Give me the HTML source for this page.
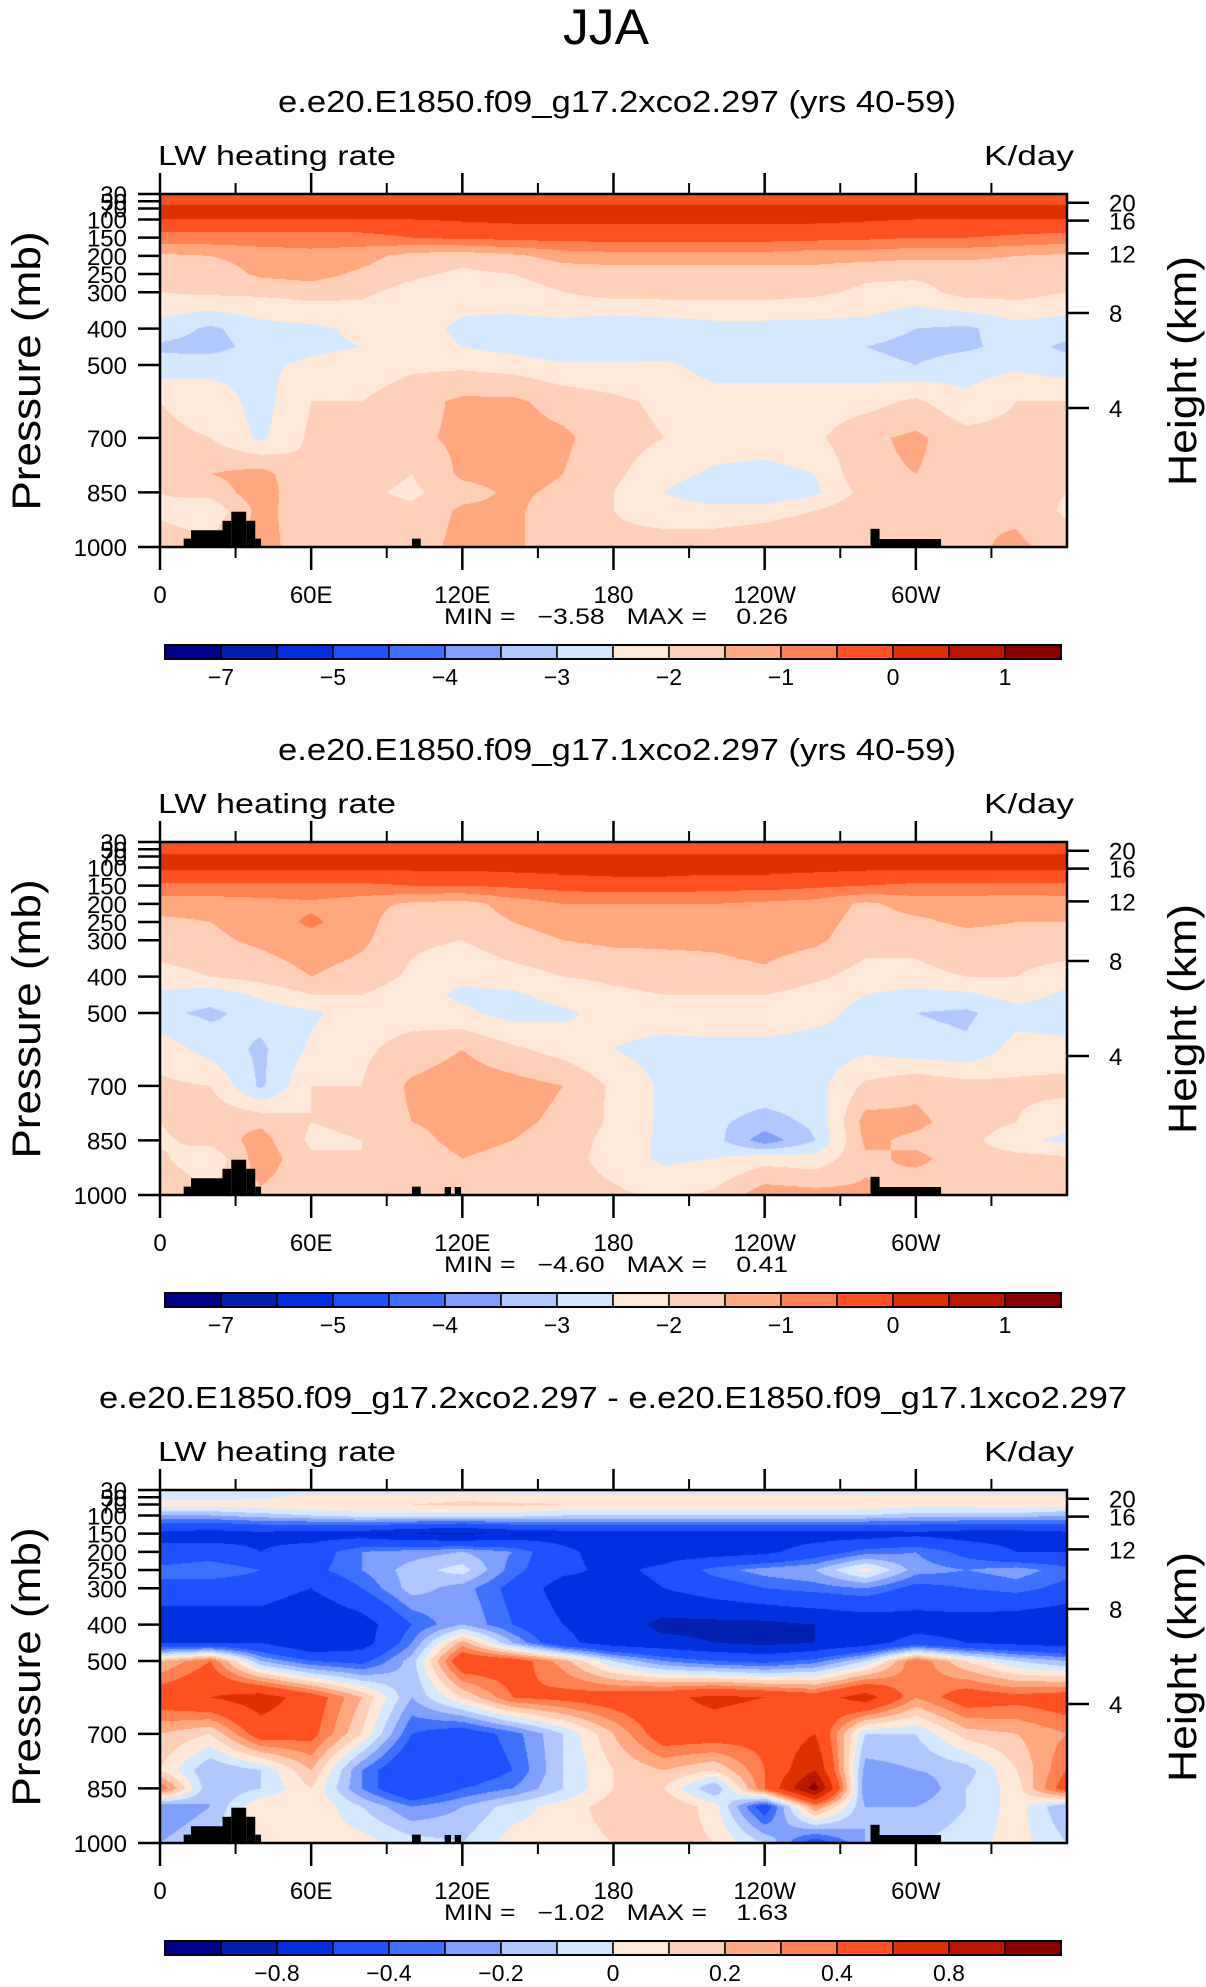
<!DOCTYPE html>
<html><head><meta charset="utf-8"><title>JJA LW heating rate</title>
<style>
html,body{margin:0;padding:0;background:#fff;}
#wrap{position:relative;width:1206px;height:1987px;overflow:hidden;background:#fff;}
canvas{position:absolute;}
svg{position:absolute;left:0;top:0;}
text{font-family:"Liberation Sans",sans-serif;fill:#000;}
.pre{white-space:pre;}
</style></head>
<body>
<div id="wrap">
<canvas id="c0"></canvas>
<canvas id="c1"></canvas>
<canvas id="c2"></canvas>
<svg id="ov" width="1206" height="1987">
<text x="606" y="44" font-size="50" text-anchor="middle" textLength="86" lengthAdjust="spacingAndGlyphs">JJA</text>
</svg>
</div>
<script>
const LONS = [0,20,40,60,80,100,120,140,160,180,200,220,240,260,280,300,320,340,360];
const PLEV = [30,50,70,100,150,200,250,300,400,450,500,600,700,800,850,900,1000];
const LEV12 = [-7,-6,-5,-4.5,-4,-3.5,-3,-2.5,-2,-1.5,-1,-0.5,0,0.5,1];
const LEV3 = [-1,-0.8,-0.6,-0.4,-0.3,-0.2,-0.1,0,0.1,0.2,0.3,0.4,0.6,0.8,1];
const COLORS = ['#00008a','#0020b0','#0030e0','#1e50ff','#4070ff','#80a0ff','#b0c8ff','#d4e8ff','#ffe8d8','#ffd0b8','#ffa880','#ff8050','#ff5020','#e03000','#b81800','#8a0000'];
const XTICK_LONS = [0,60,120,180,240,300];
const XTICK_LABELS = ['0','60E','120E','180','120W','60W'];
const XMINOR_LONS = [30,90,150,210,270,330];
const PTICKS = [30,50,70,100,150,200,250,300,400,500,700,850,1000];
const HT_LABELS = ['20','16','12','8','4'];
const HT_PRESS = [54,103,193,357,618];
const TITLES = ['e.e20.E1850.f09_g17.2xco2.297 (yrs 40-59)','e.e20.E1850.f09_g17.1xco2.297 (yrs 40-59)','e.e20.E1850.f09_g17.2xco2.297 - e.e20.E1850.f09_g17.1xco2.297'];
const MINS = ['\u22123.58','\u22124.60','\u22121.02'];
const MAXS = ['0.26','0.41','1.63'];
const TOPO1 = [[9.4,12.3,977],[12.3,24.8,954],[24.8,28.3,928],[28.3,34.2,903],[34.2,37.8,928],[37.8,40.1,977],[100,103.5,977],[282,285.6,950],[285.6,310,978]];
const TOPO2 = [[9.4,12.3,977],[12.3,24.8,954],[24.8,28.3,928],[28.3,34.2,903],[34.2,37.8,928],[37.8,40.1,977],[100,103.5,977],[113,115.5,978],[117,119.5,978],[282,285.6,950],[285.6,310,978]];

const P1 = [
[-0.4,-0.4,-0.4,-0.4,-0.4,-0.4,-0.4,-0.4,-0.4,-0.4,-0.4,-0.4,-0.4,-0.4,-0.4,-0.4,-0.4,-0.4,-0.4],
[-0.2,-0.2,-0.2,-0.2,-0.2,-0.2,-0.2,-0.2,-0.2,-0.2,-0.2,-0.2,-0.2,-0.2,-0.2,-0.2,-0.2,-0.2,-0.2],
[0.15,0.15,0.15,0.15,0.15,0.15,0.15,0.15,0.15,0.15,0.15,0.15,0.15,0.15,0.15,0.15,0.15,0.15,0.15],
[0.0,0.0,0.0,0.0,0.0,0.0,0.05,0.1,0.1,0.1,0.1,0.1,0.1,0.1,0.05,0.0,0.0,0.0,0.0],
[-0.7,-0.7,-0.7,-0.7,-0.7,-0.5,-0.4,-0.35,-0.3,-0.3,-0.3,-0.3,-0.3,-0.35,-0.4,-0.5,-0.5,-0.6,-0.7],
[-1.6,-1.5,-1.3,-1.2,-1.3,-1.7,-1.8,-1.6,-1.3,-1.2,-1.2,-1.2,-1.2,-1.3,-1.3,-1.4,-1.4,-1.5,-1.6],
[-1.8,-1.8,-1.4,-1.3,-1.6,-1.9,-2.1,-2.0,-1.8,-1.8,-1.8,-1.8,-1.8,-1.7,-1.9,-1.9,-1.8,-1.8,-1.8],
[-2.0,-1.9,-1.9,-1.8,-1.9,-2.2,-2.3,-2.2,-2.0,-1.8,-1.8,-1.8,-1.8,-1.9,-2.1,-2.2,-1.8,-1.8,-2.0],
[-2.7,-3.1,-2.7,-2.6,-2.4,-2.3,-2.6,-2.7,-2.7,-2.9,-2.8,-2.7,-2.7,-2.7,-2.7,-3.0,-3.1,-2.7,-2.8],
[-3.1,-3.2,-2.8,-2.6,-2.5,-2.3,-2.5,-2.7,-3.0,-3.0,-2.8,-2.8,-2.8,-2.8,-3.0,-3.2,-3.1,-2.8,-3.1],
[-2.8,-2.7,-2.6,-2.4,-2.3,-2.1,-2.1,-2.2,-2.4,-2.4,-2.4,-2.7,-2.7,-2.7,-2.8,-3.0,-2.7,-2.6,-2.8],
[-2.0,-2.2,-2.7,-2.0,-2.0,-1.7,-1.4,-1.4,-1.7,-1.9,-2.1,-2.3,-2.3,-2.3,-2.2,-1.9,-2.4,-2.0,-2.0],
[-1.9,-2.0,-2.6,-1.9,-1.8,-1.6,-1.4,-1.3,-1.4,-1.8,-2.0,-2.2,-2.2,-2.1,-1.6,-1.4,-1.8,-1.8,-1.9],
[-2.0,-1.5,-1.3,-2.0,-1.8,-2.0,-1.4,-1.3,-1.5,-1.9,-2.3,-2.6,-2.7,-2.5,-1.6,-1.5,-1.7,-2.0,-2.0],
[-2.0,-1.8,-1.2,-2.0,-1.9,-2.1,-1.7,-1.4,-1.6,-2.0,-2.5,-2.9,-3.0,-2.6,-1.8,-1.5,-1.6,-1.8,-2.0],
[-2.1,-2.4,-1.3,-1.9,-1.8,-1.9,-1.4,-1.4,-1.8,-2.0,-2.2,-2.3,-2.2,-2.0,-1.6,-1.8,-1.5,-1.6,-2.1],
[-1.7,-1.8,-1.3,-1.8,-1.8,-1.8,-1.3,-1.4,-1.8,-1.9,-1.8,-1.7,-1.6,-1.5,-1.6,-1.9,-1.6,-1.4,-1.7]
];
const P2 = [
[-0.4,-0.4,-0.4,-0.4,-0.4,-0.4,-0.4,-0.4,-0.4,-0.4,-0.4,-0.4,-0.4,-0.4,-0.4,-0.4,-0.4,-0.4,-0.4],
[-0.2,-0.2,-0.2,-0.2,-0.2,-0.2,-0.2,-0.2,-0.2,-0.2,-0.2,-0.2,-0.2,-0.2,-0.2,-0.2,-0.2,-0.2,-0.2],
[0.1,0.1,0.1,0.1,0.1,0.1,0.1,0.1,0.1,0.1,0.1,0.1,0.1,0.1,0.1,0.1,0.1,0.1,0.1],
[0.1,0.1,0.1,0.1,0.1,0.1,0.1,0.15,0.2,0.2,0.2,0.2,0.2,0.15,0.1,0.1,0.1,0.1,0.1],
[-0.6,-0.6,-0.6,-0.6,-0.6,-0.5,-0.5,-0.4,-0.3,-0.2,-0.2,-0.3,-0.3,-0.4,-0.5,-0.6,-0.6,-0.6,-0.6],
[-1.3,-1.3,-1.2,-1.1,-1.3,-1.6,-1.7,-1.3,-1.0,-1.0,-1.0,-1.0,-1.1,-1.2,-1.6,-1.3,-1.3,-1.4,-1.3],
[-1.6,-1.5,-1.3,-0.9,-1.3,-1.9,-1.8,-1.5,-1.3,-1.3,-1.3,-1.2,-1.2,-1.3,-1.7,-1.6,-1.4,-1.5,-1.5],
[-1.7,-1.6,-1.4,-1.2,-1.4,-1.9,-2.0,-1.7,-1.5,-1.4,-1.4,-1.4,-1.3,-1.4,-1.8,-1.9,-1.7,-1.7,-1.6],
[-2.2,-2.0,-1.8,-1.5,-1.7,-2.1,-2.4,-2.2,-2.0,-1.9,-1.8,-1.7,-1.6,-1.9,-2.2,-2.1,-2.0,-2.0,-2.3],
[-2.6,-2.8,-2.4,-2.0,-2.0,-2.3,-2.6,-2.6,-2.3,-2.1,-2.0,-2.0,-2.0,-2.2,-2.5,-2.7,-2.6,-2.3,-2.6],
[-2.9,-3.1,-2.8,-2.6,-2.2,-2.2,-2.4,-2.7,-2.6,-2.3,-2.2,-2.1,-2.1,-2.3,-2.7,-3.0,-3.1,-2.7,-2.7],
[-2.2,-2.7,-3.1,-2.4,-2.1,-1.8,-1.5,-1.9,-2.2,-2.5,-2.7,-2.7,-2.7,-2.8,-2.6,-2.8,-2.9,-2.3,-2.4],
[-1.9,-2.0,-3.1,-2.0,-2.0,-1.4,-1.2,-1.3,-1.5,-2.1,-2.6,-2.7,-2.7,-2.7,-1.9,-1.6,-1.8,-1.9,-1.8],
[-2.0,-1.6,-1.6,-2.0,-1.9,-1.5,-1.4,-1.4,-1.6,-2.1,-2.6,-2.9,-3.2,-2.9,-1.3,-1.4,-1.7,-2.0,-2.4],
[-2.1,-1.8,-1.3,-2.1,-2.0,-1.6,-1.4,-1.5,-1.7,-2.2,-2.6,-2.8,-3.8,-3.0,-1.4,-1.6,-1.8,-2.4,-2.6],
[-1.9,-2.4,-1.2,-1.9,-2.0,-1.7,-1.5,-1.6,-1.8,-2.2,-2.6,-2.5,-2.2,-2.3,-1.6,-1.4,-1.7,-1.8,-1.9],
[-1.6,-1.9,-1.6,-1.8,-1.8,-1.8,-1.5,-1.6,-1.8,-1.9,-2.1,-1.9,-1.2,-1.3,-1.4,-1.8,-1.6,-1.7,-1.7]
];
const P3 = [
[-0.05,-0.05,-0.05,-0.05,-0.05,-0.05,-0.05,-0.05,-0.05,-0.05,-0.05,-0.05,-0.05,-0.05,-0.05,-0.05,-0.05,-0.05,-0.05],
[-0.03,-0.03,-0.03,0.05,0.05,0.05,0.08,0.05,0.05,0.05,0.05,0.05,0.05,0.05,0.03,0.05,0.05,0.05,0.05],
[0.05,0.05,0.08,0.1,0.1,0.1,0.12,0.12,0.1,0.1,0.1,0.1,0.1,0.1,0.08,0.05,0.05,0.08,0.05],
[-0.2,-0.2,-0.15,-0.1,-0.05,-0.05,-0.05,-0.05,-0.1,-0.1,-0.1,-0.1,-0.1,-0.1,-0.1,-0.15,-0.15,-0.15,-0.2],
[-0.65,-0.7,-0.65,-0.7,-0.7,-0.8,-0.85,-0.75,-0.7,-0.7,-0.7,-0.7,-0.7,-0.7,-0.7,-0.65,-0.7,-0.7,-0.65],
[-0.55,-0.5,-0.6,-0.5,-0.3,-0.25,-0.2,-0.3,-0.55,-0.7,-0.7,-0.7,-0.65,-0.5,-0.35,-0.3,-0.45,-0.6,-0.6],
[-0.35,-0.3,-0.4,-0.45,-0.3,-0.15,-0.05,-0.35,-0.55,-0.65,-0.55,-0.35,-0.25,-0.2,0.05,-0.25,-0.3,-0.25,-0.35],
[-0.45,-0.5,-0.5,-0.6,-0.4,-0.15,-0.25,-0.45,-0.7,-0.7,-0.6,-0.5,-0.4,-0.35,-0.3,-0.45,-0.4,-0.35,-0.45],
[-0.75,-0.7,-0.7,-0.8,-0.7,-0.4,-0.2,-0.4,-0.6,-0.7,-0.85,-0.85,-0.85,-0.8,-0.75,-0.7,-0.7,-0.75,-0.8],
[-0.6,-0.6,-0.6,-0.8,-0.7,-0.3,0.25,-0.2,-0.55,-0.7,-0.75,-0.8,-0.85,-0.8,-0.7,-0.5,-0.6,-0.65,-0.7],
[0.2,0.4,-0.2,-0.4,-0.45,-0.15,0.55,0.5,0.25,-0.1,-0.3,-0.4,-0.45,-0.35,-0.1,0.4,0.1,-0.1,-0.2],
[0.5,0.6,0.7,0.5,0.2,-0.2,0.1,0.4,0.45,0.5,0.55,0.65,0.6,0.5,0.7,0.3,0.5,0.45,0.5],
[0.2,0.1,0.5,0.45,0.1,-0.4,-0.5,-0.35,-0.1,0.2,0.5,0.5,0.45,0.6,-0.1,-0.1,0.15,0.2,0.3],
[0.1,-0.2,-0.1,0.2,-0.3,-0.6,-0.55,-0.4,-0.1,0.1,0.2,0.1,0.4,0.8,-0.25,-0.2,-0.15,0.1,0.4],
[0.4,-0.2,-0.1,0.1,-0.3,-0.6,-0.4,-0.3,-0.1,0.1,0.1,-0.2,0.4,1.1,-0.3,-0.3,-0.1,0.05,0.5],
[-0.3,-0.2,0.1,0.1,-0.1,-0.3,-0.2,-0.05,0.05,0.15,0.2,0.05,-0.5,0.3,-0.2,-0.2,-0.1,0.05,-0.2],
[-0.2,-0.1,0.1,0.05,0.05,-0.05,-0.1,0.05,0.05,0.1,0.15,0.1,-0.1,-0.5,-0.2,-0.1,-0.05,0.05,-0.1]
];

const FIELDS = [P1,P2,P3];
const LEVELS = [LEV12,LEV12,LEV3];
const TOPOS = [TOPO1,TOPO2,TOPO2];
const L=160, R=1067, T0=194, B0=547, OFF=648;
const CBL=165, CBR=1061, CBT0=645, CBH=14;
const NS='http://www.w3.org/2000/svg';
const ov=document.getElementById('ov');

function mk(tag,attrs,parent){const e=document.createElementNS(NS,tag);for(const k in attrs)e.setAttribute(k,attrs[k]);(parent||ov).appendChild(e);return e;}
function xOf(lon){return L+lon/360*(R-L);}
function yOf(p,k){const T=T0+k*OFF,B=B0+k*OFF;return T+(p-30)/970*(B-T);}
function fmt(v){return (v<0?'\u2212':'')+Math.abs(v);}

function sample(F,lon,p){
  let i=0;while(i<LONS.length-2&&lon>LONS[i+1])i++;
  let j=0;while(j<PLEV.length-2&&p>PLEV[j+1])j++;
  const tx=(lon-LONS[i])/(LONS[i+1]-LONS[i]), ty=(p-PLEV[j])/(PLEV[j+1]-PLEV[j]);
  const a=F[j][i],b=F[j][i+1],c=F[j+1][i],d=F[j+1][i+1];
  return (a*(1-tx)+b*tx)*(1-ty)+(c*(1-tx)+d*tx)*ty;
}
function hex(h){return [parseInt(h.substr(1,2),16),parseInt(h.substr(3,2),16),parseInt(h.substr(5,2),16)];}
const RGB=COLORS.map(hex);

for(let k=0;k<3;k++){
  const T=T0+k*OFF,B=B0+k*OFF,w=R-L,h=B-T;
  const cv=document.getElementById('c'+k);
  cv.width=w;cv.height=h;cv.style.left=L+'px';cv.style.top=T+'px';
  const ctx=cv.getContext('2d');const img=ctx.createImageData(w,h);
  const F=FIELDS[k],LV=LEVELS[k];
  for(let py=0;py<h;py++){const p=30+(py+0.5)/h*970;
    for(let px=0;px<w;px++){const lon=(px+0.5)/w*360;
      const v=sample(F,lon,p);let idx=0;while(idx<LV.length&&v>=LV[idx])idx++;
      const c=RGB[idx];const o=(py*w+px)*4;img.data[o]=c[0];img.data[o+1]=c[1];img.data[o+2]=c[2];img.data[o+3]=255;}}
  ctx.putImageData(img,0,0);
  TOPOS[k].forEach(t=>{
    const r=mk('rect',{x:xOf(t[0]),y:yOf(t[2],k),width:xOf(t[1])-xOf(t[0]),height:B-yOf(t[2],k),fill:'#000'});
    
    
  });
  const fr=mk('rect',{x:L,y:T,width:w,height:h,fill:'none',stroke:'#000','stroke-width':2.5});
  
  
  const tt=mk('text',{x:k==2?613:617,y:112+k*OFF,'font-size':31,'text-anchor':'middle',textLength:k==2?1028:678,lengthAdjust:'spacingAndGlyphs'});
  tt.textContent=TITLES[k];
  
  
  const lw=mk('text',{x:158,y:165+k*OFF,'font-size':28,textLength:238,lengthAdjust:'spacingAndGlyphs'});
  lw.textContent='LW heating rate';
  
  
  const ku=mk('text',{x:1074,y:165+k*OFF,'font-size':28,'text-anchor':'end',textLength:90,lengthAdjust:'spacingAndGlyphs'});
  ku.textContent='K/day';
  
  
  XTICK_LONS.forEach((lon,i)=>{
    const x=xOf(lon);
    const t1=mk('line',{x1:x,x2:x,y1:B,y2:B+23,stroke:'#000','stroke-width':2.5});
    
    
    const t2=mk('line',{x1:x,x2:x,y1:T,y2:T-21,stroke:'#000','stroke-width':2.5});
    
    
    const lb=mk('text',{x:x,y:B+56,'font-size':24,'text-anchor':'middle'});
    lb.textContent=XTICK_LABELS[i];
    
    
  });
  XMINOR_LONS.forEach(lon=>{
    const x=xOf(lon);
    const t1=mk('line',{x1:x,x2:x,y1:B,y2:B+11,stroke:'#000','stroke-width':2});
    
    
    const t2=mk('line',{x1:x,x2:x,y1:T,y2:T-11,stroke:'#000','stroke-width':2});
    
    
  });
  PTICKS.forEach(p=>{
    const y=yOf(p,k);
    const t=mk('line',{x1:L-22,x2:L,y1:y,y2:y,stroke:'#000','stroke-width':2.5});
    
    
    const lb=mk('text',{x:127,y:y+9,'font-size':24,'text-anchor':'end'});
    lb.textContent=String(p);
    
    
  });
  HT_PRESS.forEach((p,i)=>{
    const y=yOf(p,k);
    const t=mk('line',{x1:R,x2:R+22,y1:y,y2:y,stroke:'#000','stroke-width':2.5});
    
    
    const lb=mk('text',{x:1109,y:y+9,'font-size':24});
    lb.textContent=HT_LABELS[i];
    
    
  });
  const yc=371+k*OFF;
  const pl=mk('text',{x:0,y:0,'font-size':40,'text-anchor':'middle',textLength:279,lengthAdjust:'spacingAndGlyphs',transform:`translate(40,${yc}) rotate(-90)`});
  pl.textContent='Pressure  (mb)';
  
  
  const hl=mk('text',{x:0,y:0,'font-size':40,'text-anchor':'middle',textLength:230,lengthAdjust:'spacingAndGlyphs',transform:`translate(1196,${yc}) rotate(-90)`});
  hl.textContent='Height  (km)';
  
  
  const mm=mk('text',{x:444,y:624+k*OFF,'font-size':22,textLength:344,lengthAdjust:'spacingAndGlyphs','class':'pre'});
  mm.textContent='MIN =   '+MINS[k]+'   MAX =    '+MAXS[k];
  
  
  const cbt=CBT0+k*OFF, bw=(CBR-CBL)/16;
  COLORS.forEach((c,i)=>{
    const r=mk('rect',{x:CBL+i*bw,y:cbt,width:bw,height:CBH,fill:c,stroke:'#000','stroke-width':1.5});
    
    
  });
  const cbf=mk('rect',{x:CBL,y:cbt,width:CBR-CBL,height:CBH,fill:'none',stroke:'#000','stroke-width':2});
  
  
  const LV2=LEVELS[k];
  const start=k<2?0:1;
  for(let i=start;i<LV2.length;i+=2){
    const lb=mk('text',{x:CBL+(i+1)*bw,y:cbt+40,'font-size':23,'text-anchor':'middle'});
    lb.textContent=fmt(LV2[i]);
    
    
  }
}
</script>
</body></html>
